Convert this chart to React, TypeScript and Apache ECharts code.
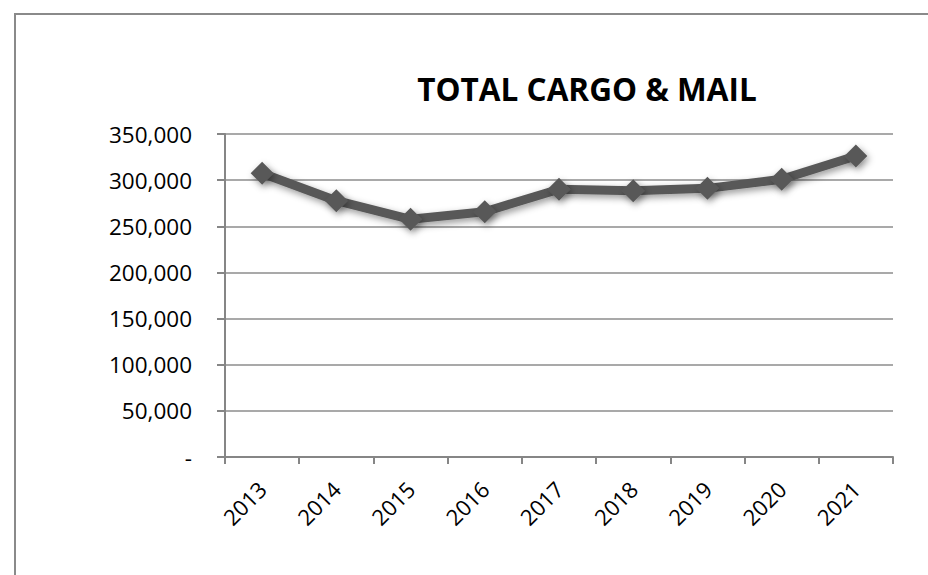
import React, { useEffect, useRef } from "react";
import * as echarts from "echarts";

const categories = ["2013", "2014", "2015", "2016", "2017", "2018", "2019", "2020", "2021"];
const cargoMail = [307400, 277700, 257600, 265800, 290100, 288600, 291100, 300900, 326200];
const titleText = "TOTAL CARGO & MAIL";

export default function App() {
  const ref = useRef<HTMLDivElement>(null);
  useEffect(() => {
    if (!ref.current) return;
    const chart = echarts.init(ref.current, null, { renderer: "svg" });
    chart.setOption({
      animation: false,
      backgroundColor: "#ffffff",
      title: {
        text: titleText,
        left: 582,
        textAlign: "center",
        top: 67,
        textStyle: { fontFamily: "Open Sans", fontWeight: "bold", fontSize: 31.5, color: "#000" },
      },
      graphic: [
        {
          type: "rect",
          shape: { x: 15, y: 14, width: 940, height: 600 },
          style: { fill: "none", stroke: "#8a8a8a", lineWidth: 2 },
          silent: true,
        },
      ],
      grid: { left: 225, right: 35, top: 134, bottom: 118 },
      xAxis: {
        type: "category",
        data: categories,
        boundaryGap: true,
        axisLine: { lineStyle: { color: "#868686", width: 2 } },
        axisTick: { show: true, alignWithLabel: false, length: 7, lineStyle: { color: "#868686", width: 2 } },
        axisLabel: {
          rotate: 45,
          margin: 28,
          fontFamily: "Open Sans",
          fontSize: 22,
          color: "#000",
        },
      },
      yAxis: {
        type: "value",
        min: 0,
        max: 350000,
        interval: 50000,
        axisLine: { show: true, lineStyle: { color: "#868686", width: 2 } },
        axisTick: { show: true, length: 8, lineStyle: { color: "#868686", width: 2 } },
        splitLine: { show: true, lineStyle: { color: "#8c8c8c", width: 1.5 } },
        axisLabel: {
          margin: 33,
          fontFamily: "Open Sans",
          fontSize: 22.5,
          color: "#000",
          formatter: (v: number) => (v === 0 ? "-" : v.toLocaleString("en-US")),
        },
      },
      series: [
        {
          type: "line",
          data: cargoMail,
          symbol: "diamond",
          symbolSize: 23,
          lineStyle: {
            color: "#595959",
            width: 9,
            shadowBlur: 7,
            shadowColor: "rgba(0,0,0,0.4)",
            shadowOffsetX: 2,
            shadowOffsetY: 3,
          },
          itemStyle: {
            color: "#595959",
            shadowBlur: 7,
            shadowColor: "rgba(0,0,0,0.4)",
            shadowOffsetX: 2,
            shadowOffsetY: 3,
          },
        },
      ],
    });
    return () => chart.dispose();
  }, []);
  return (
    <div
      ref={ref}
      style={{ position: "absolute", left: 0, top: 0, width: 928, height: 575 }}
    />
  );
}
